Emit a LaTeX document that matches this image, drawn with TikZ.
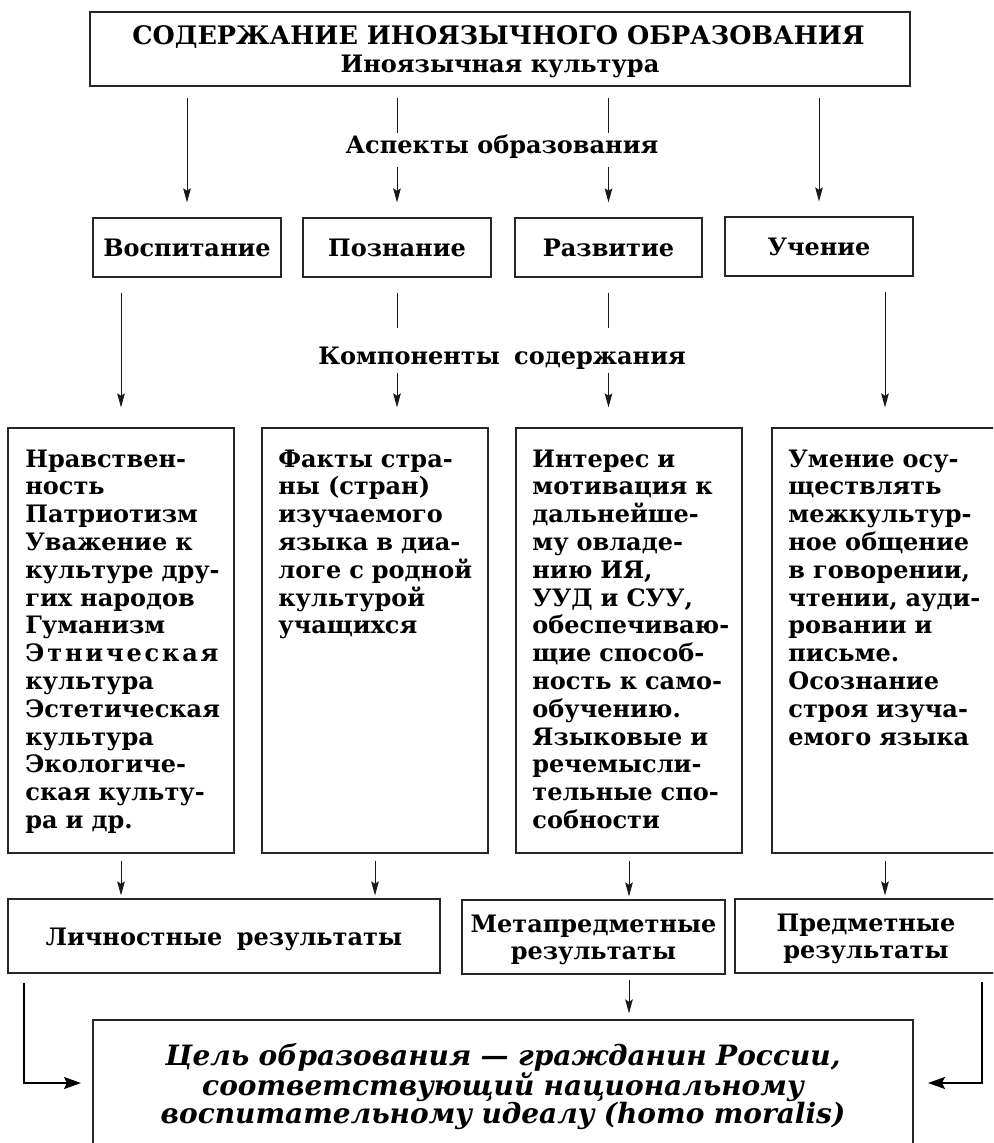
\documentclass[tikz,border=0pt]{standalone}
\usepackage{fontspec}
\setmainfont{DejaVu Serif}
\usetikzlibrary{arrows.meta}
\newcommand{\J}[1]{\makebox[\linewidth][s]{#1}}
\newcommand{\R}[1]{\makebox[\linewidth][l]{#1}}
\newcommand{\mainfs}{\bfseries\fontsize{12}{13.9}\selectfont}
\hyphenpenalty=10000
\exhyphenpenalty=10000
\tikzset{
  box/.style={draw=black!85, line width=0.6pt, inner sep=0pt, rectangle},
  arr/.style={-{Stealth[length=7pt,width=3.8pt,inset=1.2pt]}, line width=0.5pt, draw=black!90},
  ln/.style={line width=0.5pt, draw=black!90},
  bigarr/.style={-{Stealth[length=8.5pt,width=6pt,inset=1.5pt]}, line width=1pt},
  lbl/.style={font=\mainfs, inner sep=0pt},
  body/.style={font=\mainfs, inner sep=0pt, text width=96.5pt, align=left, anchor=base west},
}
\begin{document}
\begin{tikzpicture}[x=0.5pt,y=-0.5pt]
\clip (0,0) rectangle (993,1143);
\fill[white] (0,0) rectangle (993,1143);
% top box
\node[box, minimum width=410pt, minimum height=37pt] (top) at (500,49) {};
\node[lbl, font=\bfseries\fontsize{12.75}{14}\selectfont, anchor=base] (title) at (498.5,45) {СОДЕРЖАНИЕ ИНОЯЗЫЧНОГО ОБРАЗОВАНИЯ};
\node[lbl, anchor=base] (subtitle) at (500,73) {Иноязычная культура};
% aspect boxes
\node[box, lbl, draw=black!85, minimum width=94pt, minimum height=29.5pt] (a1) at (187,247.5) {Воспитание};
\node[box, lbl, draw=black!85, minimum width=94pt, minimum height=29.5pt] (a2) at (397,247.5) {Познание};
\node[box, lbl, draw=black!85, minimum width=93.5pt, minimum height=29.5pt] (a3) at (608.5,247.5) {Развитие};
\node[box, lbl, draw=black!85, minimum width=94pt, minimum height=29.5pt] (a4) at (819,246.5) {Учение};
\node[lbl, anchor=base] (asp) at (502,154) {Аспекты образования};
% arrows top -> aspects
\draw[arr, shorten <=5.5pt, shorten >=7.5pt] (top.south -| a1) -- (a1.north);
\draw[arr, shorten <=5.5pt, shorten >=7.5pt] (top.south -| a4) -- (a4.north);
\draw[ln, shorten <=5.5pt] (top.south -| a2) -- (a2 |- 0,133);
\draw[ln, shorten <=5.5pt] (top.south -| a3) -- (a3 |- 0,133);
\draw[arr, shorten >=7.5pt] (a2 |- 0,167) -- (a2.north);
\draw[arr, shorten >=7.5pt] (a3 |- 0,167) -- (a3.north);
% content boxes
\node[box, minimum width=113pt, minimum height=212.5pt] (c1) at (121,640.5) {};
\node[box, minimum width=113pt, minimum height=212.5pt] (c2) at (375,640.5) {};
\node[box, minimum width=113pt, minimum height=212.5pt] (c3) at (629,640.5) {};
\node[box, minimum width=113pt, minimum height=212.5pt] (c4) at (885,640.5) {};
\node[lbl, anchor=base] (comp) at (502,365) {Компоненты\hspace{0.25em} содержания};
% arrows aspects -> content
\draw[arr, shorten <=7.5pt, shorten >=10pt] (a1.south -| c1) -- (c1.north);
\draw[arr, shorten <=7.5pt, shorten >=10pt] (a4.south -| c4) -- (c4.north);
\draw[ln, shorten <=7.5pt] (a2.south) -- (a2 |- 0,328);
\draw[ln, shorten <=7.5pt] (a3.south) -- (a3 |- 0,328);
\draw[arr, shorten >=10pt] (a2 |- 0,373) -- (a2 |- c2.north);
\draw[arr, shorten >=10pt] (a3 |- 0,373) -- (a3 |- c3.north);
% content texts
\node[body] (t1) at (25,467) {\R{Нравствен-}\\\R{ность}\\\R{Патриотизм}\\\J{Уважение к}\\\J{культуре дру-}\\\R{гих народов}\\\R{Гуманизм}\\\J{Э\hfil т\hfil н\hfil и\hfil ч\hfil е\hfil с\hfil к\hfil а\hfil я}\\\R{культура}\\\R{Эстетическая}\\\R{культура}\\\R{Экологиче-}\\\J{ская культу-}\\\R{ра и др.}};
\node[body] (t2) at (278,467) {\J{Факты стра-}\\\R{ны (стран)}\\\R{изучаемого}\\\J{языка в диа-}\\\J{логе с родной}\\\R{культурой}\\\R{учащихся}};
\node[body] (t3) at (532,467) {\R{Интерес и}\\\J{мотивация к}\\\R{дальнейше-}\\\R{му овладе-}\\\R{нию ИЯ,}\\\J{УУД и СУУ,}\\\R{обеспечиваю-}\\\J{щие способ-}\\\J{ность к само-}\\\R{обучению.}\\\J{Языковые и}\\\R{речемысли-}\\\J{тельные спо-}\\\R{собности}};
\node[body] (t4) at (788,467) {\J{Умение осу-}\\\R{ществлять}\\\R{межкультур-}\\\J{ное общение}\\\J{в говорении,}\\\J{чтении, ауди-}\\\R{ровании и}\\\R{письме.}\\\R{Осознание}\\\J{строя изуча-}\\\R{емого языка}};
% result boxes
\node[box, minimum width=216pt, minimum height=37pt] (r1) at (224,936) {};
\node[box, minimum width=131.5pt, minimum height=37pt] (r2) at (593.5,937) {};
\node[box, minimum width=131.5pt, minimum height=37pt] (r3) at (866.5,936) {};
\node[lbl, anchor=base] (r1t) at (224,945) {Личностные\hspace{0.25em} результаты};
\node[lbl, anchor=base, align=center, text width=130pt] (r2t) at (593.5,932) {Метапредметные\\результаты};
\node[lbl, anchor=base, align=center, text width=130pt] (r3t) at (866,931) {Предметные\\результаты};
% arrows content -> results
\draw[arr, shorten <=3.5pt, shorten >=1.5pt] (c1.south) -- (c1.south |- r1.north);
\draw[arr, shorten <=3.5pt, shorten >=1.5pt] (c2.south) -- (c2.south |- r1.north);
\draw[arr, shorten <=3.5pt, shorten >=1.5pt] (c3.south) -- (c3.south |- r2.north);
\draw[arr, shorten <=3.5pt, shorten >=1.5pt] (c4.south) -- (c4.south |- r3.north);
% goal box
\node[box, minimum width=410pt, minimum height=70pt] (goal) at (503,1090) {};
\node[lbl, font=\bfseries\itshape\fontsize{14}{13.75}\selectfont, anchor=base, align=center, text width=400pt] (goalt) at (503,1065) {Цель образования — гражданин России,\\соответствующий национальному\\воспитательному идеалу (homo moralis)};
\draw[arr, shorten <=2.5pt, shorten >=3pt] (r2.south -| c3) -- (c3 |- goal.north);
% elbow arrows
\coordinate (ls) at (24,983);
\coordinate (le) at (81,1083);
\coordinate (rs) at (982,982);
\coordinate (re) at (928,1083);
\draw[bigarr] (ls) |- (le);
\draw[bigarr] (rs) |- (re);
\end{tikzpicture}
\end{document}
